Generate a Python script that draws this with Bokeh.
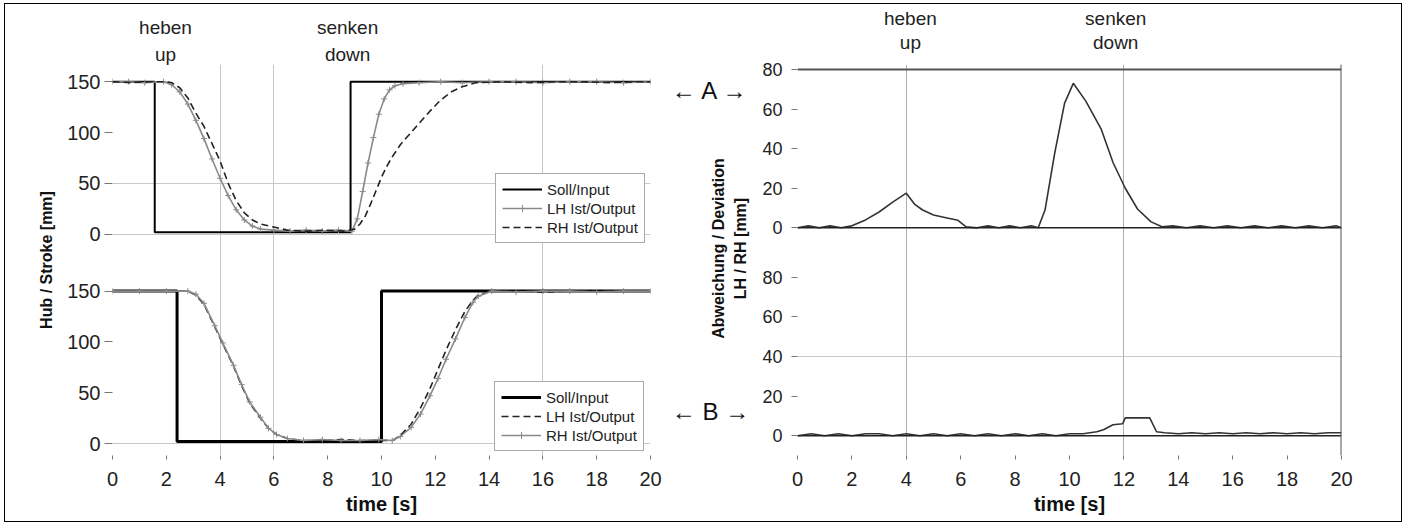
import math
from bokeh.plotting import figure
from bokeh.models import (Range1d, FixedTicker, CustomJSTickFormatter, Span, Label,
                          Legend, LegendItem, ColumnDataSource, LinearAxis)
from bokeh.layouts import row
from bokeh.transform import dodge
from bokeh.embed import file_html
from bokeh.resources import INLINE

FONT = "Liberation Sans"

# ---------------- data ----------------
x_ticks = [0, 2, 4, 6, 8, 10, 12, 14, 16, 18, 20]
stroke_ticks = [0, 50, 100, 150]
dev_ticks = [0, 20, 40, 60, 80]
legend_labels = ["Soll/Input", "LH Ist/Output", "RH Ist/Output"]
phase_de = ["heben", "senken"]
phase_en = ["up", "down"]
phase_x_stroke = [1.97, 8.74]
phase_x_dev = [4.15, 11.7]
dev_label_lines = ["Abweichung / Deviation", "LH / RH [mm]"]
marker_labels = ["\u2190 A \u2192", "\u2190 B \u2192"]

# A (upper) – stroke
a_soll_t = [0, 1.57, 1.57, 8.85, 8.85, 20]
a_soll_v = [150, 150, 2, 2, 150, 150]
a_lh_t = [0, 0.6, 1.2, 1.9, 2.2, 2.5, 2.8, 3.1, 3.4, 3.7, 4.0, 4.3, 4.6, 4.9, 5.2, 5.5, 6.0,
          6.6, 7.2, 7.8, 8.4, 8.9, 9.1, 9.3, 9.5, 9.7, 9.9, 10.1, 10.3, 10.5, 10.8,
          11.4, 12.2, 13.0, 14.0, 15.0, 16.0, 17.0, 18.0, 19.0, 20.0]
a_lh_v = [150, 150, 149, 150, 147, 140, 128, 112, 94, 74, 55, 38, 24, 14, 8, 5, 4,
          3, 4, 3, 4, 3, 15, 42, 70, 95, 118, 133, 142, 146, 148,
          149, 150, 149, 150, 150, 149, 150, 150, 149, 150]
a_rh_t = [0, 0.7, 1.4, 2.0, 2.2, 2.5, 2.8, 3.1, 3.4, 3.7, 4.0, 4.3, 4.6, 4.9, 5.2, 5.5, 6.0,
          6.5, 7.2, 7.9, 8.6, 9.0, 9.2, 9.4, 9.6, 9.8, 10.0, 10.2, 10.4, 10.7,
          11.0, 11.4, 11.8, 12.2, 12.6, 13.0, 13.5, 14.5, 15.5, 16.5, 17.5, 18.5, 19.5, 20.0]
a_rh_v = [150, 149, 150, 150, 149, 144, 134, 119, 106, 89, 72, 50, 33, 21, 14, 10, 7,
          4, 3, 4, 3, 5, 10, 18, 30, 43, 56, 67, 76, 88,
          97, 109, 121, 132, 140, 145, 149, 150, 149, 150, 150, 149, 150, 150]

# B (lower) – stroke
b_soll_t = [0, 2.4, 2.4, 10.0, 10.0, 20]
b_soll_v = [150, 150, 2, 2, 150, 150]
b_t = [0, 1.0, 2.0, 2.8, 3.1, 3.4, 3.8, 4.1, 4.5, 4.8, 5.1, 5.5, 5.8, 6.1, 6.5,
       7.1, 7.8, 8.5, 9.2, 9.9, 10.4, 10.7, 11.1, 11.45, 11.8, 12.1, 12.4, 12.75, 13.1,
       13.4, 13.6, 14.1, 15.0, 16.0, 17.0, 18.0, 19.0, 20.0]
b_lh_v = [150, 150, 150, 150, 146, 137, 115, 98, 76, 57, 40, 25, 15, 9, 5,
          3, 3, 4, 3, 3, 3, 8, 19, 35, 54, 73, 92, 112, 130,
          141, 146, 150, 150, 149, 150, 150, 150, 150]
b_rh_v = [150, 150, 150, 150, 147, 138, 116, 99, 77, 58, 41, 26, 15, 9, 5,
          3, 4, 3, 3, 4, 3, 7, 16, 29, 47, 64, 83, 103, 124,
          139, 145, 150, 149, 150, 150, 149, 150, 150]

# deviation LH / RH
dev_a_t = [0, 0.4, 0.8, 1.2, 1.6, 2.0, 2.5, 3.0, 3.5, 4.0, 4.3, 4.6, 5.0, 5.5, 5.9, 6.2,
           6.6, 7.0, 7.4, 7.8, 8.2, 8.6, 8.85, 9.1, 9.46, 9.82, 10.14, 10.6, 11.16, 11.6,
           12.05, 12.5, 13.0, 13.4, 13.8, 14.3, 14.8, 15.3, 15.8, 16.3, 16.8, 17.3, 17.8,
           18.3, 18.8, 19.3, 19.8, 20.0]
dev_a_v = [0, 1, 0, 1, 0, 1, 4, 8, 13, 17.5, 12, 9, 6.5, 5, 3.8, 0.5,
           0, 1, 0, 1, 0, 1, 0, 9, 38, 63, 73, 64, 50, 33,
           20, 9.5, 3, 0.5, 1, 0, 1, 0, 1, 0, 1, 0, 1,
           0, 1, 0, 1, 0]
dev_b_t = [0, 0.5, 1.0, 1.5, 2.0, 2.5, 3.0, 3.5, 4.0, 4.5, 5.0, 5.5, 6.0, 6.5, 7.0, 7.5,
           8.0, 8.5, 9.0, 9.5, 10.0, 10.5, 11.0, 11.25, 11.6, 11.95, 12.05, 12.5, 12.95,
           13.2, 13.5, 14.0, 14.5, 15.0, 15.5, 16.0, 16.5, 17.0, 17.5, 18.0, 18.5, 19.0,
           19.5, 20.0]
dev_b_v = [0, 1, 0, 1, 0, 1, 1, 0, 1, 0, 1, 0, 1, 0, 1, 0,
           1, 0, 1, 0, 1, 1, 2, 3, 5.5, 6, 9, 9, 9,
           2, 1.5, 1, 1.5, 1, 1.5, 1, 1.5, 1, 1.5, 1, 1.5, 1,
           1.5, 1.5]

# ---------------- layout constants ----------------
S_OFF = 206   # vertical stacking offset of the upper stroke plot
D_OFF = 105   # vertical stacking offset of the upper deviation plot
H = 517
MB_TOP = 56
MB_BOTTOM = 66
FRAME_H = H - MB_TOP - MB_BOTTOM   # 395 px, shared by all three plots


def src(t, v):
    return ColumnDataSource(dict(t=t, v=v))


def base_style(p):
    p.outline_line_color = None
    p.background_fill_color = "white"
    p.border_fill_color = "white"
    p.axis.axis_line_color = None
    p.axis.minor_tick_line_color = None
    p.axis.major_tick_line_color = "#777777"
    p.axis.major_tick_in = 0
    p.axis.major_label_text_font = FONT
    p.axis.major_label_text_font_size = "20px"
    p.axis.major_label_text_color = "#222222"
    p.axis.axis_label_text_font = FONT
    p.axis.axis_label_text_font_style = "bold"
    p.axis.axis_label_text_color = "#111111"
    p.xaxis.ticker = FixedTicker(ticks=x_ticks)
    p.xaxis.axis_label = "time [s]"
    p.xaxis.axis_label_text_font_size = "20px"
    p.xaxis.major_tick_out = 4
    p.xaxis.major_label_standoff = 12
    p.xaxis.axis_label_standoff = 4
    p.grid.grid_line_color = "#c8c8c8"
    p.grid.grid_line_width = 1


def phase_axis(p, xs, texts, standoff):
    ax = LinearAxis(ticker=FixedTicker(ticks=xs),
                    formatter=CustomJSTickFormatter(args=dict(labels=texts), code="return labels[index]"))
    ax.axis_line_color = None
    ax.major_tick_line_color = None
    ax.minor_tick_line_color = None
    ax.major_tick_out = 0
    ax.major_tick_in = 0
    ax.major_label_standoff = standoff
    ax.major_label_text_font = FONT
    ax.major_label_text_font_size = "19px"
    ax.major_label_text_color = "#222222"
    p.add_layout(ax, "above")


# ---------------- left: stroke ----------------
left = figure(width=660, height=H, x_range=Range1d(0, 20), y_range=Range1d(-11.7, 372.9),
              output_backend="svg", toolbar_location=None,
              min_border_left=107, min_border_right=15, min_border_top=MB_TOP, min_border_bottom=MB_BOTTOM)
base_style(left)
left.yaxis.ticker = FixedTicker(ticks=stroke_ticks + [v + S_OFF for v in stroke_ticks])
left.yaxis.formatter = CustomJSTickFormatter(args=dict(off=S_OFF),
                                             code="return (tick >= off - 20 ? tick - off : tick).toFixed(0)")
left.yaxis.axis_label = "Hub / Stroke [mm]"
left.yaxis.axis_label_text_font_size = "16px"
left.yaxis.major_tick_out = 8
left.yaxis.major_label_standoff = 4
left.yaxis.axis_label_standoff = 9
left.xgrid.ticker = FixedTicker(ticks=[4, 6, 16])
left.ygrid.ticker = FixedTicker(ticks=[0, S_OFF, S_OFF + 50])
phase_axis(left, phase_x_stroke, phase_en, 0)
phase_axis(left, phase_x_stroke, phase_de, 3)

# upper (A)
r_a_soll = left.line("t", dodge("v", S_OFF), source=src(a_soll_t, a_soll_v), line_color="black", line_width=2)
r_a_lh = left.line("t", dodge("v", S_OFF), source=src(a_lh_t, a_lh_v), line_color="#8a8a8a", line_width=1.6)
r_a_lh_m = left.scatter("t", dodge("v", S_OFF), source=src(a_lh_t, a_lh_v), marker="cross",
                        size=6, line_color="#8a8a8a", line_width=1)
r_a_rh = left.line("t", dodge("v", S_OFF), source=src(a_rh_t, a_rh_v), line_color="#222222",
                   line_width=1.6, line_dash="7 4")
# lower (B)
r_b_soll = left.line("t", "v", source=src(b_soll_t, b_soll_v), line_color="black", line_width=3)
r_b_lh = left.line("t", "v", source=src(b_t, b_lh_v), line_color="#222222", line_width=1.6, line_dash="7 4")
r_b_rh = left.line("t", "v", source=src(b_t, b_rh_v), line_color="#8a8a8a", line_width=1.6)
r_b_rh_m = left.scatter("t", "v", source=src(b_t, b_rh_v), marker="cross", size=6,
                        line_color="#8a8a8a", line_width=1)


def make_legend(renderer_groups, loc):
    lg = Legend(items=[LegendItem(label=l, renderers=r) for l, r in zip(legend_labels, renderer_groups)],
                location=loc, orientation="vertical")
    lg.label_text_font = FONT
    lg.label_text_font_size = "15px"
    lg.label_text_color = "#222222"
    lg.glyph_width = 40
    lg.glyph_height = 18
    lg.label_height = 18
    lg.spacing = 1
    lg.padding = 6
    lg.margin = 0
    lg.label_standoff = 5
    lg.border_line_color = "#555555"
    lg.border_line_width = 1
    lg.background_fill_color = "white"
    lg.background_fill_alpha = 1
    return lg


left.add_layout(make_legend([[r_a_soll], [r_a_lh, r_a_lh_m], [r_a_rh]], (383, 212)))
left.add_layout(make_legend([[r_b_soll], [r_b_lh], [r_b_rh, r_b_rh_m]], (382, 4)))

# ---------------- middle: markers and deviation axis title ----------------
mid = figure(width=87, height=H, x_range=Range1d(0, 1), y_range=Range1d(0, 1),
             output_backend="svg", toolbar_location=None, x_axis_location=None, y_axis_location=None,
             min_border_left=0, min_border_right=0, min_border_top=MB_TOP, min_border_bottom=MB_BOTTOM)
mid.outline_line_color = None
mid.grid.visible = False
for txt, yy in zip(marker_labels, (FRAME_H - 30, FRAME_H - 351)):
    mid.add_layout(Label(x=45, y=yy, x_units="screen", y_units="screen", text=txt,
                         text_align="center", text_baseline="middle", text_font=FONT,
                         text_font_size="24px", text_color="#111111"))
for txt, xx in zip(dev_label_lines, (53, 75)):
    mid.add_layout(Label(x=xx, y=FRAME_H - 188, x_units="screen", y_units="screen", text=txt,
                         angle=math.pi / 2, text_align="center", text_baseline="middle", text_font=FONT,
                         text_font_size="16px", text_font_style="bold", text_color="#111111"))

# ---------------- right: deviation ----------------
right = figure(width=649, height=H, x_range=Range1d(0, 20), y_range=Range1d(-10, 187.5),
               output_backend="svg", toolbar_location=None,
               min_border_left=45, min_border_right=60, min_border_top=MB_TOP, min_border_bottom=MB_BOTTOM)
base_style(right)
right.yaxis.ticker = FixedTicker(ticks=dev_ticks + [v + D_OFF for v in dev_ticks])
right.yaxis.formatter = CustomJSTickFormatter(args=dict(off=D_OFF),
                                              code="return (tick >= off - 20 ? tick - off : tick).toFixed(0)")
right.yaxis.major_label_text_font_size = "18px"
right.yaxis.major_tick_out = 6
right.yaxis.major_label_standoff = 9
right.xgrid.ticker = FixedTicker(ticks=[4, 12])
right.xgrid.grid_line_color = "#b0b0b0"
right.ygrid.ticker = FixedTicker(ticks=[40])
phase_axis(right, phase_x_dev, phase_en, 12)
phase_axis(right, phase_x_dev, phase_de, 0)

for loc in (0, D_OFF):
    right.add_layout(Span(location=loc, dimension="width", line_color="#222222", line_width=1.5))
right.add_layout(Span(location=D_OFF + dev_ticks[-1], dimension="width", line_color="#555555", line_width=2))
right.add_layout(Span(location=x_ticks[-1], dimension="height", line_color="#555555", line_width=2))

right.line("t", dodge("v", D_OFF), source=src(dev_a_t, dev_a_v), line_color="#333333", line_width=1.6)
right.line("t", "v", source=src(dev_b_t, dev_b_v), line_color="#333333", line_width=1.6)

layout = row(left, mid, right, spacing=0,
             styles={"border": "1px solid #000000", "margin-left": "4px", "margin-top": "3px"})

open("out.html", "w").write(file_html(layout, INLINE))
